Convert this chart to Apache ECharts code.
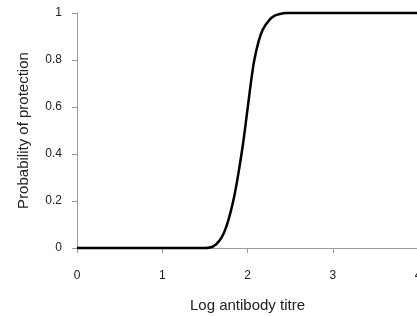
<!DOCTYPE html>
<html>
<head>
<meta charset="utf-8">
<script src="https://cdn.jsdelivr.net/npm/echarts@6/dist/echarts.min.js"></script>
<style>
  html, body { margin: 0; padding: 0; background: #fff; }
  #chart { width: 417px; height: 316px; }
</style>
</head>
<body>
<div id="chart"></div>
<script>
// values
var titre = [0, 0.5, 1.0, 1.5, 1.56, 1.63, 1.7, 1.76, 1.81, 1.85, 1.89, 1.95, 2.0, 2.05, 2.08, 2.125, 2.18, 2.26, 2.32, 2.38, 2.45, 3.0, 4.0];
var protection = [0, 0, 0, 0, 0.002, 0.015, 0.047, 0.1, 0.165, 0.23, 0.31, 0.45, 0.59, 0.73, 0.8, 0.872, 0.93, 0.972, 0.989, 0.996, 1, 1, 1];

var chart = echarts.init(document.getElementById("chart"));
var axisGray = "#9a9a9a";
var option = {
  animation: false,
  grid: { left: 77, right: -1, top: 13, bottom: 68, outerBoundsMode: "none" },
  xAxis: {
    type: "value",
    min: 0,
    max: 4,
    interval: 1,
    name: "Log antibody titre",
    nameLocation: "middle",
    nameGap: 50,
    nameTextStyle: { fontFamily: "Liberation Sans", fontSize: 15, color: "#222" },
    axisLine: { show: true, lineStyle: { color: axisGray, width: 1 } },
    axisTick: { show: true, length: 5, lineStyle: { color: axisGray } },
    axisLabel: { fontFamily: "Liberation Sans", fontSize: 12, color: "#222", margin: 22, showMaxLabel: true },
    splitLine: { show: false }
  },
  yAxis: {
    type: "value",
    min: 0,
    max: 1,
    interval: 0.2,
    name: "Probability of protection",
    nameLocation: "middle",
    nameGap: 46,
    nameTextStyle: { fontFamily: "Liberation Sans", fontSize: 15, color: "#222" },
    axisLine: { show: true, lineStyle: { color: axisGray, width: 1 } },
    axisTick: { show: true, length: 5, lineStyle: { color: axisGray } },
    axisLabel: {
      fontFamily: "Liberation Sans", fontSize: 12, color: "#222", margin: 15,
      formatter: function (v) { return String(Math.round(v * 10) / 10); }
    },
    splitLine: { show: false }
  },
  series: [{
    type: "line",
    data: titre.map(function (x, i) { return [x, protection[i]]; }),
    smooth: 0.4,
    showSymbol: false,
    lineStyle: { color: "#000", width: 2.5 },
    clip: false
  }]
};
chart.setOption(option);
</script>
</body>
</html>
